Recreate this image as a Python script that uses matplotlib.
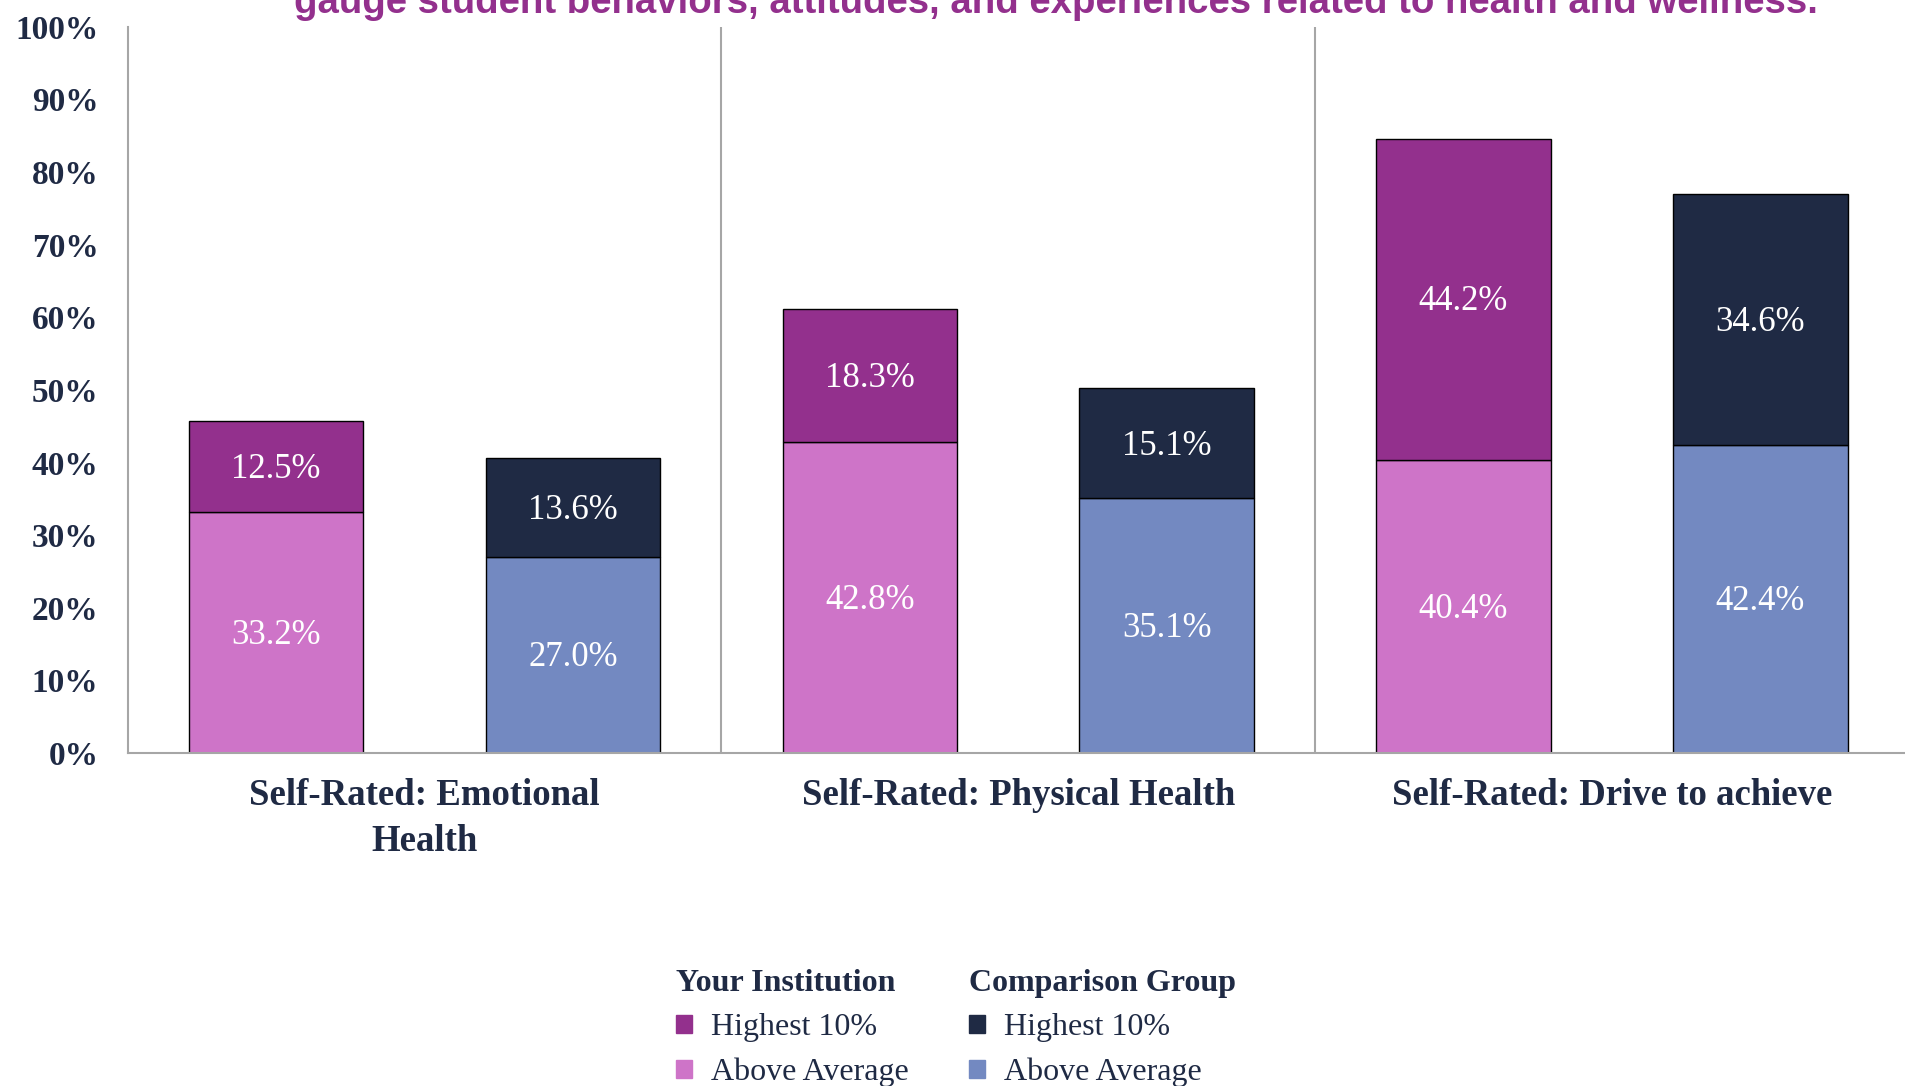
import matplotlib
matplotlib.use("Agg")
import matplotlib.pyplot as plt
import numpy as np
from matplotlib.patches import Patch

categories = ["Self-Rated: Emotional\nHealth", "Self-Rated: Physical Health", "Self-Rated: Drive to achieve"]
inst_above = [33.2, 42.8, 40.4]
inst_high = [12.5, 18.3, 44.2]
comp_above = [27.0, 35.1, 42.4]
comp_high = [13.6, 15.1, 34.6]
yticks = [0, 10, 20, 30, 40, 50, 60, 70, 80, 90, 100]

C_IH = "#93308D"
C_IA = "#CE74C8"
C_CH = "#1F2A44"
C_CA = "#7389C1"
NAVY = "#1F2A44"
SERIF = "Liberation Serif"

fig = plt.figure(figsize=(19.05, 10.86), dpi=100)
ax = fig.add_axes([0.067, 0.3066, 0.935, 0.6688])

x = np.arange(len(categories))
w = 0.294
off = 0.25
b1 = ax.bar(x - off, inst_above, w, color=C_IA, edgecolor="black", linewidth=1)
b2 = ax.bar(x - off, inst_high, w, bottom=inst_above, color=C_IH, edgecolor="black", linewidth=1)
b3 = ax.bar(x + off, comp_above, w, color=C_CA, edgecolor="black", linewidth=1)
b4 = ax.bar(x + off, comp_high, w, bottom=comp_above, color=C_CH, edgecolor="black", linewidth=1)

for bars, vals, bottoms in [(b1, inst_above, [0]*3), (b2, inst_high, inst_above),
                             (b3, comp_above, [0]*3), (b4, comp_high, comp_above)]:
    for r, v, b in zip(bars, vals, bottoms):
        ax.text(r.get_x() + r.get_width()/2, b + v/2 - 0.4, f"{v:.1f}%", ha="center", va="center",
                color="white", fontsize=25, family=SERIF)

ax.set_xlim(-0.5, 2.5)
ax.set_ylim(0, 100)
ax.set_yticks(yticks)
ax.set_yticklabels([f"{t}%" for t in yticks], fontsize=24, family=SERIF, fontweight="bold", color=NAVY)
ax.set_xticks(x)
ax.set_xticklabels(categories, fontsize=26.5, family=SERIF, fontweight="bold", color=NAVY, linespacing=1.4)
ax.tick_params(axis="both", length=0)
ax.tick_params(axis="x", pad=18)
ax.tick_params(axis="y", pad=21)
for s in ["top", "right"]:
    ax.spines[s].set_visible(False)
for s in ["left", "bottom"]:
    ax.spines[s].set_color("#A6A6A6")
    ax.spines[s].set_linewidth(1.5)
for xv in [0.5, 1.5]:
    ax.axvline(xv, color="#A6A6A6", linewidth=1.5)

fig.text(0.5545, 1 - 13/1086, "gauge student behaviors, attitudes, and experiences related to health and wellness.",
         ha="center", va="baseline", fontsize=27.6, fontweight="bold", color=C_IH, family="Liberation Sans")

leg_kw = dict(frameon=False, handlelength=0.5, handleheight=0.5, handletextpad=0.6,
              labelspacing=0.48, borderpad=0, borderaxespad=0, alignment="left",
              prop={"family": SERIF, "size": 23},
              title_fontproperties={"family": SERIF, "size": 23, "weight": "bold"}, loc="upper left")
leg1 = fig.legend(handles=[Patch(color=C_IH), Patch(color=C_IA)], labels=["Highest 10%", "Above Average"],
                  title="Your Institution", bbox_to_anchor=(676/1905, 1 - 969/1086), **leg_kw)
leg2 = fig.legend(handles=[Patch(color=C_CH), Patch(color=C_CA)], labels=["Highest 10%", "Above Average"],
                  title="Comparison Group", bbox_to_anchor=(969/1905, 1 - 969/1086), **leg_kw)
for leg in (leg1, leg2):
    leg.get_title().set_color(NAVY)
    for t in leg.get_texts():
        t.set_color(NAVY)

fig.savefig("out.png", dpi=100)
